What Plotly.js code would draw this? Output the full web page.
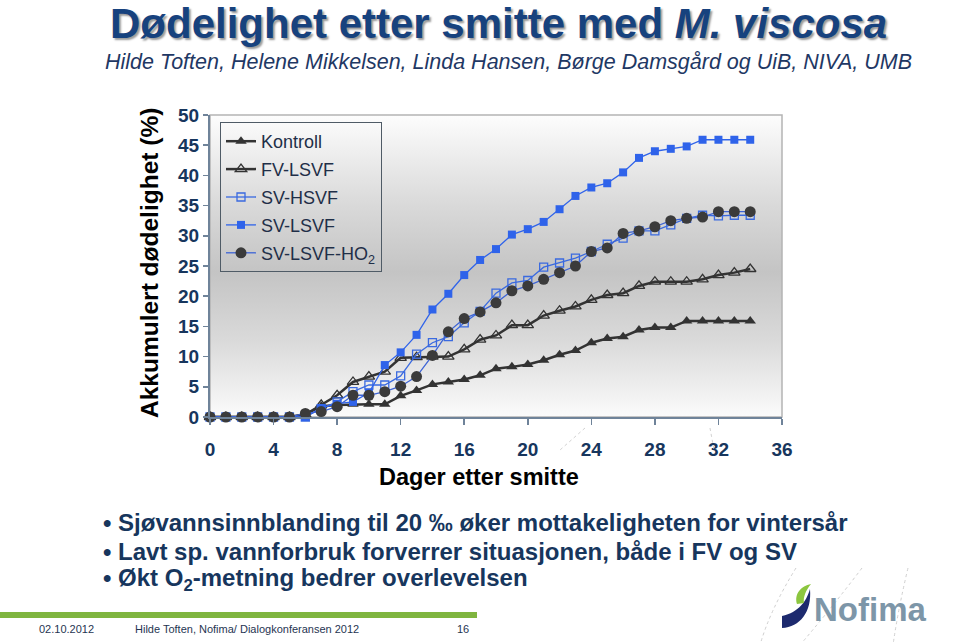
<!DOCTYPE html>
<html>
<head>
<meta charset="utf-8">
<script src="https://cdn.plot.ly/plotly-3.0.1.min.js"></script>
<style>
  html, body { margin: 0; padding: 0; background: #ffffff; }
  #wrap { position: relative; width: 960px; height: 642px; overflow: hidden; background: #ffffff; }
  #grad { position: absolute; left: 210px; top: 115px; width: 572px; height: 302px;
          background: linear-gradient(to bottom, #fdfdfd 0%, #d9d9d9 30%, #c4c4c4 52%, #dadada 75%, #fbfbfb 100%); }
  #plot { position: absolute; left: 0; top: 0; width: 960px; height: 642px; }
</style>
</head>
<body>
<div id="wrap">
  <div id="grad"></div>
  <div id="plot"></div>
</div>
<script>
// ---- data ----
const days = [0,1,2,3,4,5,6,7,8,9,10,11,12,13,14,15,16,17,18,19,20,21,22,23,24,25,26,27,28,29,30,31,32,33,34];
const kontroll = [0,0,0,0,0,0,0.4,1.8,2.0,2.1,2.1,2.1,3.5,4.4,5.4,5.8,6.2,6.9,8.0,8.3,8.7,9.4,10.3,11.0,12.3,13.0,13.3,14.4,14.8,14.8,15.9,15.9,15.9,15.9,15.9];
const fvLsvf = [0,0,0,0,0,0,0.4,2.0,3.6,5.8,6.7,7.5,9.8,9.9,10.0,10.0,11.2,12.8,13.5,15.2,15.2,16.8,17.6,18.3,19.4,20.2,20.5,21.7,22.4,22.4,22.4,22.8,23.5,23.9,24.5];
const svHsvf = [0,0,0,0,0,0,0,1.4,2.5,4.2,5.3,5.3,6.8,10.4,12.3,13.3,15.6,17.5,20.5,22.2,22.6,24.8,25.5,26.3,27.4,28.6,29.6,30.8,30.8,31.8,32.9,33.4,33.3,33.4,33.4];
const svLsvf = [0,0,0,0,0,0,0,1.5,2.2,2.5,4.0,8.6,10.7,13.6,17.8,20.4,23.5,26.0,27.8,30.2,31.1,32.3,34.4,36.6,38.0,38.7,40.5,42.9,44.0,44.4,44.8,45.9,45.9,45.9,45.9];
const svLsvfHo2 = [0,0,0,0,0,0,0.6,0.9,1.7,3.6,3.6,4.2,5.1,6.7,10.2,14.1,16.3,17.4,18.9,20.9,21.7,22.8,23.9,25.0,27.4,28.0,30.4,30.8,31.5,32.5,32.9,33.1,34.0,34.0,34.0];
const seriesNames = ['Kontroll','FV-LSVF','SV-HSVF','SV-LSVF','SV-LSVF-HO<sub>2</sub>'];
const xTicks = [0,4,8,12,16,20,24,28,32,36];
const yTicks = [0,5,10,15,20,25,30,35,40,45,50];
const titleText = 'Dødelighet etter smitte med <i>M. viscosa</i>';
const subtitleText = 'Hilde Toften, Helene Mikkelsen, Linda Hansen, Børge Damsgård og UiB, NIVA, UMB';
const xTitle = 'Dager etter smitte';
const yTitle = 'Akkumulert dødelighet (%)';
const bullets = [
  '• Sjøvannsinnblanding til 20 ‰ øker mottakeligheten for vintersår',
  '• Lavt sp. vannforbruk forverrer situasjonen, både i FV og SV',
  '• Økt O<sub>2</sub>-metning bedrer overlevelsen'
];
const footerTexts = ['02.10.2012', 'Hilde Toften, Nofima/ Dialogkonferansen 2012', '16'];
const logoText = 'Nofima';

// ---- layout geometry (pixels) ----
const L = 210, T = 115, W = 572, H = 302;
const FIG_W = 960, FIG_H = 642;
const px = x => (x - L) / W;
const py = y => (T + H - y) / H;
function pathPx(cmds) {
  return cmds.map(c => {
    const out = [c[0]];
    for (let i = 1; i < c.length; i += 2) out.push(px(c[i]).toFixed(5) + ',' + py(c[i+1]).toFixed(5));
    return out.join(' ');
  }).join(' ') + ' Z';
}

const FONT = 'Liberation Sans, Arial, Helvetica, sans-serif';
const NAVY = '#17365d';
const darkLine = '#333333';
const blue1 = '#3a6ae0';
const blue2 = '#2f63ea';

const traces = [
  { x: days, y: kontroll, name: seriesNames[0], mode: 'lines+markers', cliponaxis: false,
    line: { color: darkLine, width: 2.5 },
    marker: { symbol: 'triangle-up', size: 10, color: darkLine } },
  { x: days, y: fvLsvf, name: seriesNames[1], mode: 'lines+markers', cliponaxis: false,
    line: { color: darkLine, width: 2.5 },
    marker: { symbol: 'triangle-up-open', size: 10, color: darkLine, line: { width: 1.3 } } },
  { x: days, y: svHsvf, name: seriesNames[2], mode: 'lines+markers', cliponaxis: false,
    line: { color: blue1, width: 1.3 },
    marker: { symbol: 'square-open', size: 8, color: blue1, line: { width: 1.3 } } },
  { x: days, y: svLsvf, name: seriesNames[3], mode: 'lines+markers', cliponaxis: false,
    line: { color: blue2, width: 1.3 },
    marker: { symbol: 'square', size: 8, color: blue2 } },
  { x: days, y: svLsvfHo2, name: seriesNames[4], mode: 'lines+markers', cliponaxis: false,
    line: { color: '#3d64d6', width: 1.3 },
    marker: { symbol: 'circle', size: 11, color: '#3b3b3b' } }
];

const annotations = [
  { text: titleText, xref: 'paper', yref: 'paper', x: px(498), y: py(24), xanchor: 'center', yanchor: 'middle',
    showarrow: false, font: { family: FONT, size: 42, weight: 'bold', color: '#17427e', shadow: '2px 2px 2px #9a9a9a' } },
  { text: '<i>' + subtitleText + '</i>', xref: 'paper', yref: 'paper', x: px(508), y: py(62), xanchor: 'center', yanchor: 'middle',
    showarrow: false, font: { family: FONT, size: 21.5, color: '#1f3864' } },
  { text: yTitle, xref: 'paper', yref: 'paper', x: px(149), y: py(263), xanchor: 'center', yanchor: 'middle', textangle: -90,
    showarrow: false, font: { family: FONT, size: 24.5, weight: 'bold', color: '#000000' } },
  { text: xTitle, xref: 'paper', yref: 'paper', x: px(479), y: py(477), xanchor: 'center', yanchor: 'middle',
    showarrow: false, font: { family: FONT, size: 23.5, weight: 'bold', color: '#000000' } },
  { text: logoText, xref: 'paper', yref: 'paper', x: px(870), y: py(609), xanchor: 'center', yanchor: 'middle',
    showarrow: false, font: { family: FONT, size: 33, weight: 'bold', color: '#7d96a8' } }
];
const bulletY = [522, 551, 579];
bullets.forEach((b, i) => annotations.push({
  text: b, xref: 'paper', yref: 'paper', x: px(101), y: py(bulletY[i]), xanchor: 'left', yanchor: 'middle',
  showarrow: false, font: { family: FONT, size: 24, weight: 'bold', color: NAVY }
}));
const footerX = [37, 133, 455];
footerTexts.forEach((t, i) => annotations.push({
  text: t, xref: 'paper', yref: 'paper', x: px(footerX[i]), y: py(629), xanchor: 'left', yanchor: 'middle',
  showarrow: false, font: { family: FONT, size: 11, color: '#1f3552' }
}));

const shapes = [
  { type: 'rect', xref: 'paper', yref: 'paper', x0: 0, x1: 1, y0: 0, y1: 1, layer: 'below',
    line: { color: '#b4b4b4', width: 1.5 } },
  { type: 'rect', xref: 'paper', yref: 'paper', x0: px(0), x1: px(477), y0: py(618), y1: py(612),
    fillcolor: '#7fb53f', line: { width: 0 } },
  { type: 'path', xref: 'paper', yref: 'paper', path: 'M ' + px(796) + ',' + py(568) + ' Q ' + px(770) + ',' + py(610) + ' ' + px(760) + ',' + py(645),
    line: { color: '#cfcfcf', width: 1, dash: 'dot' } },
  { type: 'path', xref: 'paper', yref: 'paper', path: 'M ' + px(862) + ',' + py(568) + ' Q ' + px(830) + ',' + py(610) + ' ' + px(800) + ',' + py(645),
    line: { color: '#cfcfcf', width: 1, dash: 'dot' } },
  { type: 'path', xref: 'paper', yref: 'paper', path: 'M ' + px(908) + ',' + py(568) + ' Q ' + px(898) + ',' + py(610) + ' ' + px(893) + ',' + py(645),
    line: { color: '#cfcfcf', width: 1, dash: 'dot' } },
  { type: 'path', xref: 'paper', yref: 'paper', path: 'M ' + px(585) + ',' + py(428) + ' L ' + px(560) + ',' + py(450),
    line: { color: '#d2d2d2', width: 1, dash: 'dot' } },
  { type: 'path', xref: 'paper', yref: 'paper', path: 'M ' + px(710) + ',' + py(428) + ' L ' + px(714) + ',' + py(450),
    line: { color: '#d2d2d2', width: 1, dash: 'dot' } },
  { type: 'path', xref: 'paper', yref: 'paper',
    path: pathPx([['M', 782, 628], ['C', 800, 627, 812, 612, 810, 589], ['C', 806, 602, 799, 612, 782, 616]]),
    fillcolor: '#1d2a6e', line: { width: 0 } },
  { type: 'path', xref: 'paper', yref: 'paper',
    path: pathPx([['M', 797, 604], ['C', 794, 594, 801, 586, 811, 584], ['C', 806, 590, 803, 597, 804, 603]]),
    fillcolor: '#8cc63f', line: { width: 0 } }
];

const layout = {
  width: FIG_W, height: FIG_H,
  margin: { l: L, r: FIG_W - L - W, t: T, b: FIG_H - T - H, pad: 0 },
  paper_bgcolor: 'rgba(0,0,0,0)',
  plot_bgcolor: 'rgba(0,0,0,0)',
  font: { family: FONT },
  showlegend: true,
  legend: {
    x: px(220), y: py(122), xanchor: 'left', yanchor: 'top',
    bgcolor: 'rgba(0,0,0,0)', bordercolor: '#4f5b66', borderwidth: 1,
    font: { family: FONT, size: 18, color: '#1f2f48' },
    tracegroupgap: 1.5, itemwidth: 30
  },
  xaxis: {
    range: [0, 36], tickmode: 'array', tickvals: xTicks, ticktext: xTicks.map(String),
    showgrid: false, zeroline: false, showline: true, linecolor: '#6f8399', linewidth: 2,
    ticks: 'outside', ticklen: 6, tickcolor: '#6f8399', tickwidth: 1.5,
    ticklabelstandoff: 8,
    tickfont: { family: FONT, size: 19, weight: 'bold', color: NAVY }
  },
  yaxis: {
    range: [0, 50], tickmode: 'array', tickvals: yTicks, ticktext: yTicks.map(String),
    showgrid: false, zeroline: false, showline: true, linecolor: '#6f8399', linewidth: 2,
    ticks: 'outside', ticklen: 5, tickcolor: '#6f8399', tickwidth: 1.5,
    tickfont: { family: FONT, size: 19, weight: 'bold', color: NAVY }
  },
  annotations: annotations,
  shapes: shapes
};

traces.forEach((t, i) => { t.legendgroup = 'g' + i; });

Plotly.newPlot('plot', traces, layout, { displayModeBar: false, staticPlot: true });
</script>
</body>
</html>
